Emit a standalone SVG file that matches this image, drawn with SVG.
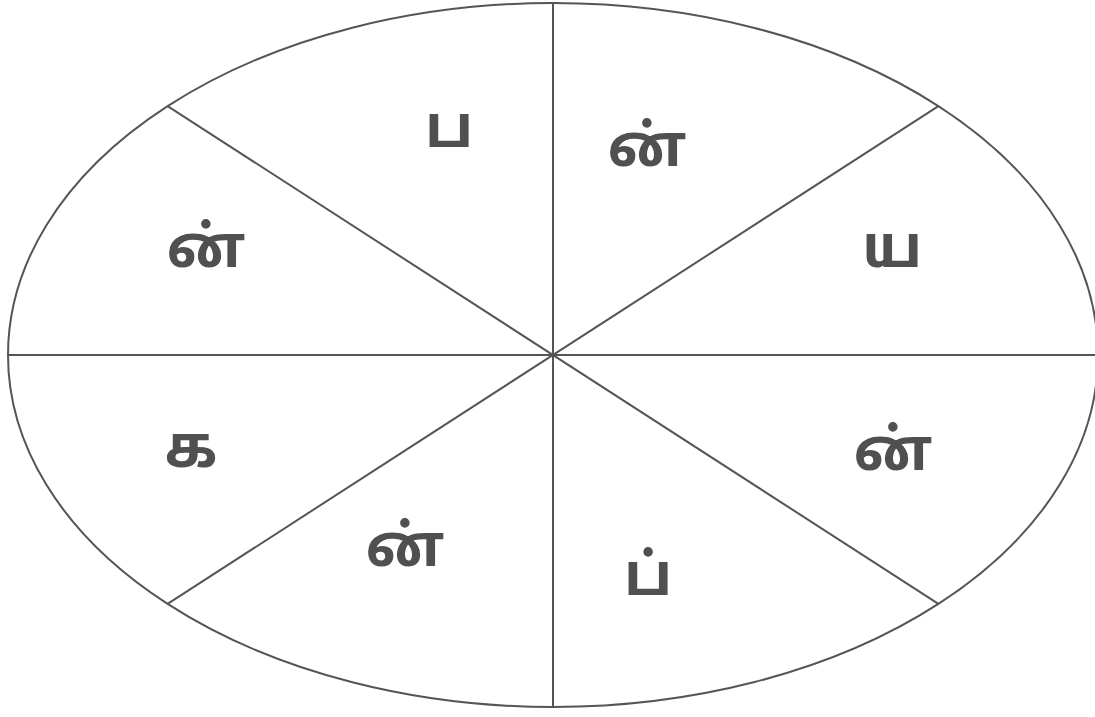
<svg xmlns="http://www.w3.org/2000/svg" width="1095" height="717" viewBox="0 0 1095 717">
<style>
.e{fill:none;stroke:#555;stroke-width:2}
.l{stroke:#555;stroke-width:2}
.t{font-family:"Noto Sans Tamil","Noto Sans","Lato","Noto Sans CJK SC",sans-serif;font-size:58px;font-weight:bold;fill:#505050;text-anchor:middle}
</style>
<rect width="1095" height="717" fill="#fff"/>
<ellipse class="e" cx="553" cy="355" rx="545" ry="352"/>
<g id="connectors">
<line class="l" x1="8" y1="355" x2="1098" y2="355"/>
<line class="l" x1="553" y1="3" x2="553" y2="707"/>
<line class="l" x1="167.6" y1="106.1" x2="938.4" y2="603.9"/>
<line class="l" x1="938.4" y1="106.1" x2="167.6" y2="603.9"/>
</g>
<g id="n1"><text class="t" x="449" y="147">ப</text></g>
<g id="n2"><text class="t" x="647" y="166">ன்</text></g>
<g id="n3"><text class="t" x="892" y="267">ய</text></g>
<g id="n4"><text class="t" x="206" y="267">ன்</text></g>
<g id="n5"><text class="t" x="191" y="467">க</text></g>
<g id="n6"><text class="t" x="893" y="470">ன்</text></g>
<g id="n7"><text class="t" x="405" y="566">ன்</text></g>
<g id="n8"><text class="t" x="648" y="595">ப்</text></g>
</svg>
